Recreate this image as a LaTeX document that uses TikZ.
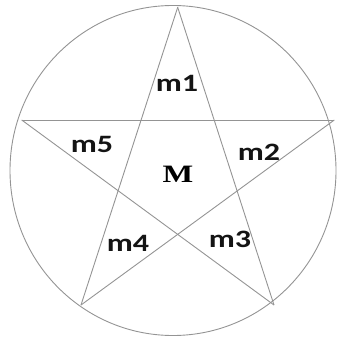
\documentclass[tikz,border=0pt]{standalone}
\usepackage{fontspec}
\setmainfont{Liberation Serif}
\newfontfamily\lblfont{Carlito}
\begin{document}
\begin{tikzpicture}[x=1pt,y=-1pt,
  edge/.style={draw=black!42, line width=0.9pt},
  mlab/.style={font=\lblfont\bfseries\fontsize{25}{25}\selectfont, inner sep=0pt, text=black!92},
  Mlab/.style={font=\bfseries\fontsize{25}{25}\selectfont, inner sep=0pt}]
\useasboundingbox (0,0) rectangle (337,340);
\coordinate (T) at (177.7,7.3);
\coordinate (L) at (21.7,120);
\coordinate (R) at (334.3,120);
\coordinate (BL) at (81,305);
\coordinate (BR) at (274,305);
\draw[edge] (173,170.5) ellipse [x radius=163, y radius=165];
\draw[edge] (T) -- (BL);
\draw[edge] (T) -- (BR);
\draw[edge] (L) -- (R);
\draw[edge] (L) -- (BR);
\draw[edge] (R) -- (BL);
\node[mlab] (m1) at (177,83) {\scalebox{1.28}[1]{m1}};
\node[mlab] (m2) at (259,152) {\scalebox{1.28}[1]{m2}};
\node[mlab] (m3) at (230,239) {\scalebox{1.28}[1]{m3}};
\node[mlab] (m4) at (128,243) {\scalebox{1.28}[1]{m4}};
\node[mlab] (m5) at (92,144) {\scalebox{1.28}[1]{m5}};
\node[Mlab] (M) at (178,174) {\scalebox{1.3}[1]{M}};
\end{tikzpicture}
\end{document}
